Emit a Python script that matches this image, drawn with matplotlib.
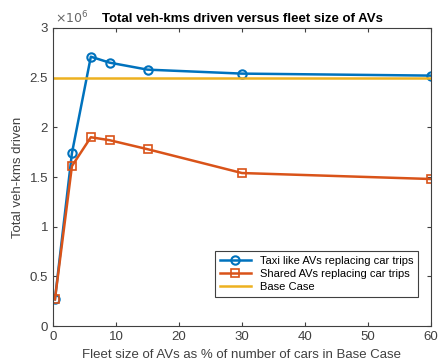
import numpy as np
import matplotlib.pyplot as plt

# Fleet size (% of cars in base case) and total veh-kms driven
fleet_pct = [0.3, 3, 6, 9, 15, 30, 60]
taxi_vkm = [0.27e6, 1.74e6, 2.71e6, 2.65e6, 2.58e6, 2.54e6, 2.52e6]
shared_vkm = [0.27e6, 1.61e6, 1.90e6, 1.87e6, 1.78e6, 1.54e6, 1.48e6]
base_x = [0, 60]
base_vkm = [2.5e6, 2.5e6]

plt.rcParams['font.family'] = ['Liberation Sans', 'DejaVu Sans']

fig = plt.figure(figsize=(4.42, 3.62), dpi=100)
ax = fig.add_axes([0.12, 0.099, 0.855, 0.824])

ax.plot(fleet_pct, taxi_vkm, color='#0072BD', lw=1.8, marker='o', ms=6,
        mfc='none', mew=1.5, label='Taxi like AVs replacing car trips')
ax.plot(fleet_pct, shared_vkm, color='#D95319', lw=1.8, marker='s', ms=5.5,
        mfc='none', mew=1.2, label='Shared AVs replacing car trips')
ax.plot(base_x, base_vkm, color='#EDB120', lw=1.8, label='Base Case')

ax.set_xlim(0, 60)
ax.set_ylim(0, 3e6)
ax.set_xticks(np.arange(0, 61, 10))
ax.set_yticks(np.arange(0, 3.01e6, 0.5e6))
ax.set_yticklabels(['0', '0.5', '1', '1.5', '2', '2.5', '3'])
ax.tick_params(direction='in', top=True, right=True, labelsize=9.5,
               colors='#404040', length=3)
for s in ax.spines.values():
    s.set_color('#404040')
    s.set_linewidth(0.8)

ax.text(0.005, 1.005, r'$\times10^6$', transform=ax.transAxes, fontsize=9,
        color='#666666', ha='left', va='bottom')

ax.set_xlabel('Fleet size of AVs as % of number of cars in Base Case',
              fontsize=9.5, color='#404040')
ax.set_ylabel('Total veh-kms driven', fontsize=9.5, color='#404040')
ax.set_title('Total veh-kms driven versus fleet size of AVs',
             fontsize=9.5, fontweight='bold', color='black', pad=4)

leg = ax.legend(loc='lower right', bbox_to_anchor=(0.98, 0.08), fontsize=8,
                fancybox=False, edgecolor='#404040', framealpha=1,
                handlelength=2.8, borderpad=0.4, labelspacing=0.3)
leg.get_frame().set_linewidth(0.8)

fig.savefig('out.png', dpi=100)
